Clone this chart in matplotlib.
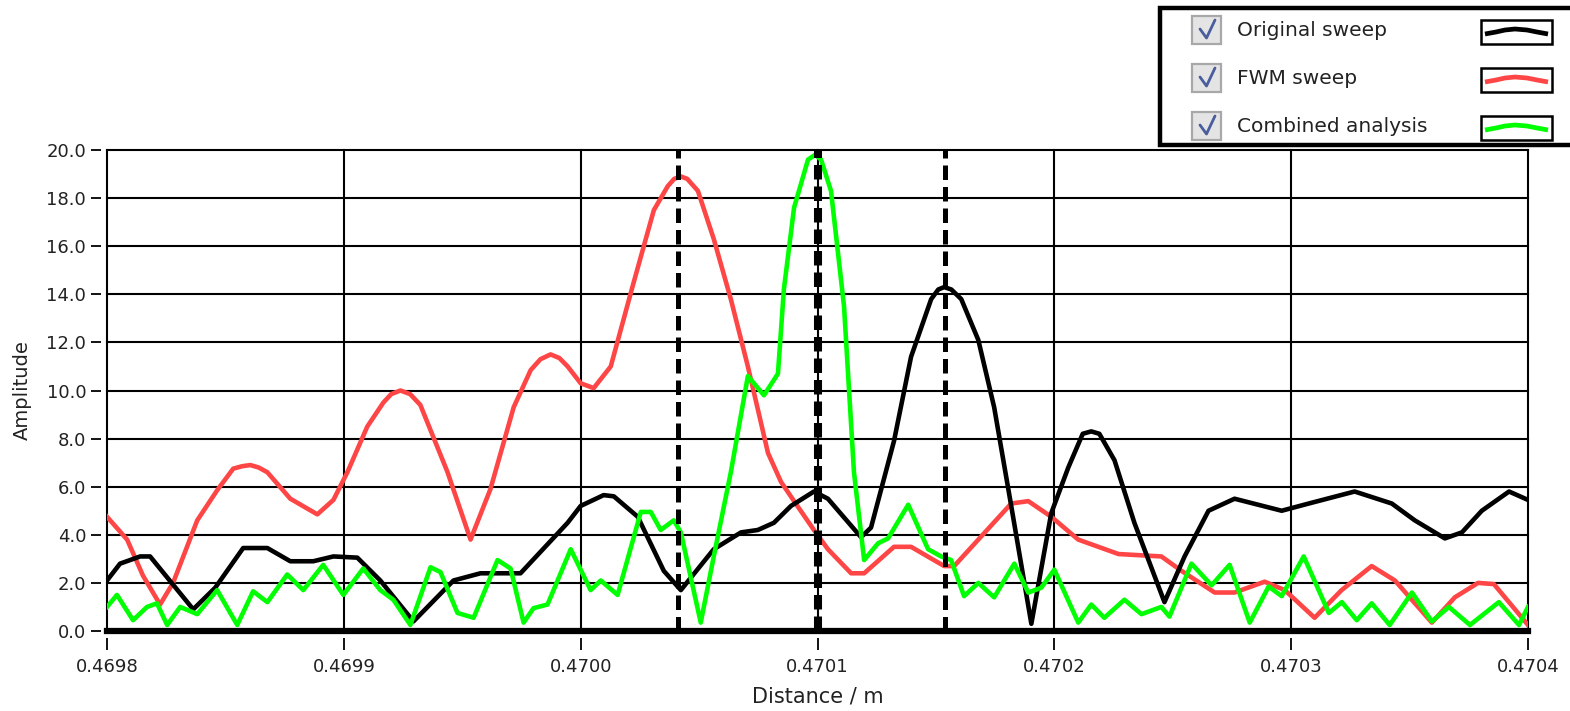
import numpy as np
import matplotlib
matplotlib.use('Agg')
import matplotlib.pyplot as plt
from matplotlib.patches import Rectangle

# distances are read as offsets from 0.4698 m in units of 1e-4 m
x0 = 0.4698
unit = 1e-4

# Original sweep (black)
black_u = [0, 0.055, 0.140, 0.182, 0.364, 0.457, 0.575, 0.677, 0.774, 0.871, 0.956, 1.057,
           1.154, 1.294, 1.463, 1.577, 1.746, 1.945, 2.0, 2.097, 2.140, 2.241, 2.351, 2.423,
           2.562, 2.677, 2.748, 2.816, 2.888, 2.985, 3.044, 3.184, 3.226, 3.323, 3.395, 3.480,
           3.510, 3.535, 3.565, 3.607, 3.679, 3.746, 3.818, 3.903, 3.987, 4.059, 4.120, 4.156,
           4.190, 4.254, 4.338, 4.465,
           4.550, 4.651, 4.761, 4.960, 5.074, 5.268, 5.425, 5.522, 5.649, 5.721, 5.805, 5.920, 6.0]
black_y = [2.1, 2.8, 3.1, 3.1, 0.9, 1.8, 3.45, 3.45, 2.9, 2.9, 3.1, 3.05,
           2.1, 0.4, 2.1, 2.4, 2.4, 4.5, 5.2, 5.65, 5.6, 4.75, 2.5, 1.7,
           3.4, 4.1, 4.2, 4.5, 5.2, 5.8, 5.5, 3.9, 4.3, 7.9, 11.4, 13.8,
           14.2, 14.3, 14.2, 13.8, 12.1, 9.3, 5.2, 0.3, 4.9, 6.8, 8.2, 8.3,
           8.2, 7.1, 4.5, 1.2,
           3.1, 5.0, 5.5, 5.0, 5.3, 5.8, 5.3, 4.6, 3.85, 4.1, 5.0, 5.8, 5.45]

# FWM sweep (red)
red_u = [0, 0.085, 0.152, 0.224, 0.279, 0.381, 0.465, 0.533, 0.570, 0.605, 0.640, 0.677,
         0.774, 0.888, 0.956, 1.015, 1.099, 1.167, 1.200, 1.239, 1.280, 1.323, 1.438, 1.535,
         1.619, 1.717, 1.789, 1.830, 1.873, 1.910, 1.945, 2.0, 2.055, 2.127, 2.224, 2.309,
         2.368, 2.395, 2.423, 2.450, 2.495, 2.562, 2.634, 2.706,
         2.791, 2.846, 2.901, 2.985, 3.044, 3.142, 3.197, 3.323, 3.395, 3.535, 3.577, 3.679,
         3.818, 3.890, 3.987, 4.101, 4.271, 4.452, 4.537, 4.677, 4.761, 4.888, 4.973, 5.099,
         5.213, 5.340, 5.438, 5.594, 5.691, 5.789, 5.856, 6.0]
red_y = [4.75, 3.8, 2.3, 1.1, 2.0, 4.6, 5.85, 6.75, 6.85, 6.9, 6.8, 6.6,
         5.5, 4.85, 5.45, 6.6, 8.5, 9.5, 9.85, 10.0, 9.85, 9.4, 6.6, 3.8,
         5.9, 9.3, 10.85, 11.3, 11.5, 11.35, 11.0, 10.3, 10.1, 11.0, 14.5, 17.5,
         18.5, 18.8, 18.9, 18.8, 18.3, 16.3, 13.8, 11.0,
         7.4, 6.2, 5.4, 4.2, 3.4, 2.4, 2.4, 3.5, 3.5, 2.7, 2.7, 3.8,
         5.3, 5.4, 4.75, 3.8, 3.2, 3.1, 2.5, 1.6, 1.6, 2.05, 1.7, 0.55,
         1.7, 2.7, 2.1, 0.35, 1.4, 2.0, 1.95, 0.25]

# Combined analysis (green)
green_u = [0, 0.042, 0.110, 0.169, 0.211, 0.254, 0.309, 0.381, 0.465, 0.550, 0.617, 0.677,
           0.761, 0.829, 0.913, 0.998, 1.082, 1.154, 1.209, 1.281, 1.366, 1.408, 1.480, 1.548,
           1.649, 1.704, 1.759, 1.801, 1.860, 1.958, 2.042, 2.085, 2.156, 2.254, 2.296, 2.338,
           2.393, 2.423, 2.507, 2.562, 2.634, 2.706, 2.774, 2.833, 2.858, 2.901, 2.960, 2.990,
           3.015, 3.057, 3.112, 3.154, 3.197, 3.256, 3.298, 3.383, 3.467, 3.522, 3.564, 3.619,
           3.679, 3.746, 3.831, 3.890, 3.945, 4.0, 4.101, 4.156, 4.211, 4.296, 4.368, 4.452,
           4.486, 4.579, 4.664, 4.740, 4.825, 4.905, 4.960, 5.053, 5.159, 5.214, 5.277, 5.340,
           5.416, 5.510, 5.594, 5.666, 5.755, 5.877, 5.962, 6.0]
green_y = [1.0, 1.5, 0.45, 1.0, 1.15, 0.25, 1.0, 0.7, 1.7, 0.25, 1.65, 1.2,
           2.35, 1.7, 2.75, 1.5, 2.6, 1.7, 1.3, 0.25, 2.65, 2.45, 0.75, 0.55,
           2.95, 2.6, 0.35, 0.95, 1.1, 3.4, 1.7, 2.1, 1.5, 4.95, 4.95, 4.2,
           4.6, 4.1, 0.35, 3.1, 6.6, 10.6, 9.8, 10.7, 14.2, 17.6, 19.6, 19.8,
           19.6, 18.3, 13.5, 6.6, 2.95, 3.65, 3.85, 5.25, 3.4, 3.1, 2.95, 1.45,
           2.0, 1.4, 2.8, 1.6, 1.8, 2.55, 0.35, 1.1, 0.55, 1.3, 0.7, 1.0,
           0.6, 2.8, 1.9, 2.75, 0.35, 1.85, 1.45, 3.1, 0.75, 1.2, 0.45, 1.15,
           0.25, 1.6, 0.4, 1.0, 0.25, 1.2, 0.25, 1.0]

# peak markers (dashed lines)
marker_x = [0.470041, 0.4701, 0.470154]
marker_w = [3.6, 5.8, 3.6]

series_names = ['Original sweep', 'FWM sweep', 'Combined analysis']
series_colors = ['#000000', '#ff4646', '#00ff00']

xticks = [0.4698, 0.4699, 0.4700, 0.4701, 0.4702, 0.4703, 0.4704]
yticks = np.arange(0, 21, 2)

W, H = 1570, 711
fig = plt.figure(figsize=(W / 100, H / 100), dpi=100)
ax = fig.add_axes([107 / W, (H - 631) / H, (1528 - 107) / W, (631 - 150) / H])

ax.set_xlim(0.4698, 0.4704)
ax.set_ylim(0, 20)

# grid (black)
for xt in xticks:
    ax.axvline(xt, color='#000000', lw=1.5, zorder=1, clip_on=False)
for yt in yticks:
    ax.axhline(yt, color='#000000', lw=1.5, zorder=1, clip_on=False)

ax.plot(x0 + np.array(red_u) * unit, red_y, color=series_colors[1], lw=3.3, zorder=3)
ax.plot(x0 + np.array(black_u) * unit, black_y, color=series_colors[0], lw=3.3, zorder=4)
ax.plot(x0 + np.array(green_u) * unit, green_y, color=series_colors[2], lw=3.3, zorder=5)

for mx, mw in zip(marker_x, marker_w):
    ax.axvline(mx, color='black', lw=mw, linestyle=(0, (2.9 * 3.6 / mw, 1.4 * 3.6 / mw)), zorder=6)

# thick zero line
ax.axhline(0, color='black', lw=4.5, zorder=7, clip_on=False)

for s in ax.spines.values():
    s.set_visible(False)
ax.spines['left'].set_position(('outward', 4))
ax.spines['bottom'].set_position(('outward', 5))

ax.set_xticks(xticks)
ax.set_xticklabels(['%.4f' % v for v in xticks])
ax.set_yticks(yticks)
ax.set_yticklabels(['%.1f' % v for v in yticks])
ax.tick_params(axis='y', direction='out', length=7.5, width=1.3, pad=3.5, labelsize=13, labelcolor='#222222')
ax.tick_params(axis='x', direction='out', length=8.5, width=1.3, pad=6, labelsize=13, labelcolor='#222222')

ax.set_ylabel('Amplitude', fontsize=14, color='#222222')
ax.yaxis.set_label_coords(-0.053, 0.5)
ax.set_xlabel('Distance / m', fontsize=15, color='#222222')
ax.xaxis.set_label_coords(0.5, -0.115)

# legend panel drawn in pixel coordinates
lg = fig.add_axes([1150 / W, (H - 150) / H, 420 / W, 150 / H])
lg.set_xlim(1150, 1570)
lg.set_ylim(150, 0)
lg.axis('off')
lg.add_patch(Rectangle((1160, 8), 430, 137, facecolor='white', edgecolor='black', lw=3.2, clip_on=False))

row_y = [30, 78, 126]
for name, col, ry in zip(series_names, series_colors, row_y):
    lg.add_patch(Rectangle((1192, ry - 14), 29, 28, facecolor='#e4e4e4', edgecolor='#a8a8a8', lw=1.6))
    lg.plot([1200, 1206.5, 1215], [ry - 1, ry + 8, ry - 10], color='#4a5d9c', lw=2.0, solid_capstyle='round')
    lg.text(1237, ry, name, fontsize=14.5, color='#222222', va='center', ha='left')
    lg.add_patch(Rectangle((1481, ry - 10), 71, 24, facecolor='white', edgecolor='black', lw=1.8))
    lg.plot([1485, 1496, 1505, 1515, 1527, 1537, 1548],
            [ry + 4, ry + 2, ry + 0, ry - 1, ry + 0, ry + 2, ry + 4],
            color=col, lw=3.4, solid_capstyle='butt')

fig.savefig('out.png', dpi=100)
